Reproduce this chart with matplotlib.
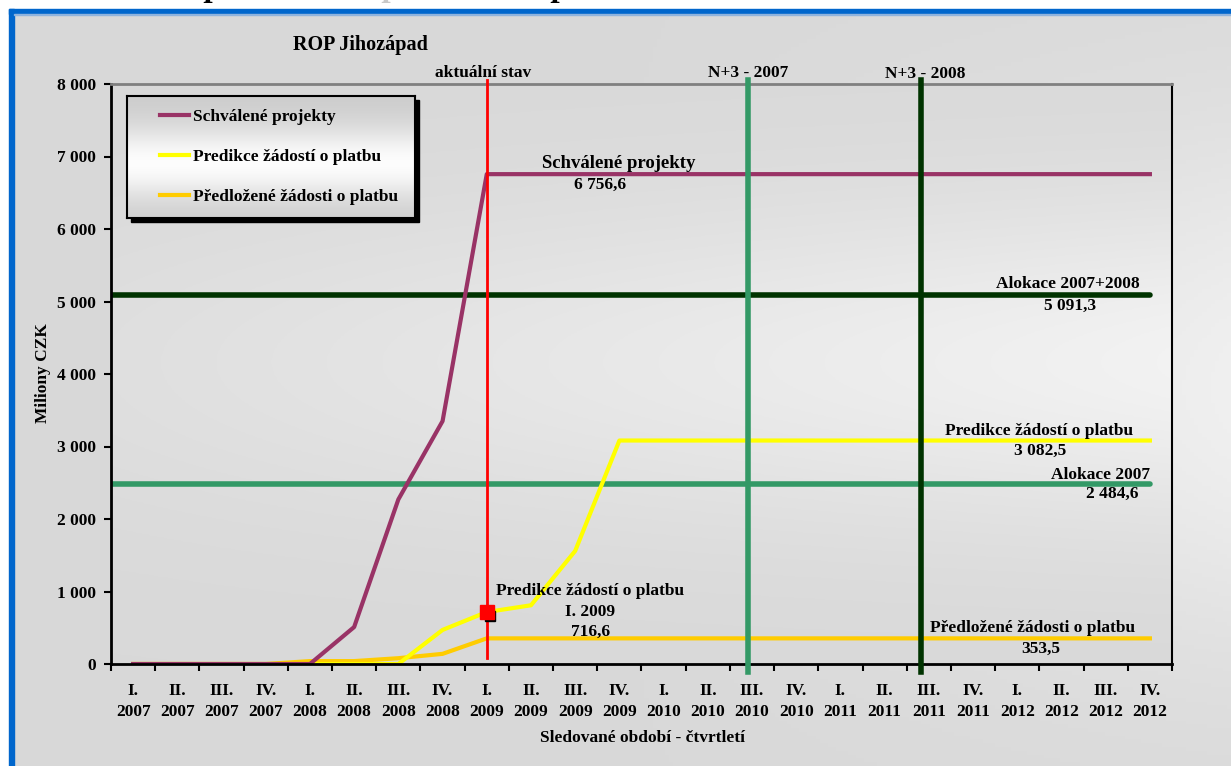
import numpy as np
import matplotlib
matplotlib.use("Agg")
import matplotlib.pyplot as plt
import matplotlib.transforms as mtransforms
from matplotlib.patches import Rectangle

# --- data -------------------------------------------------------------
quarters = ["I.", "II.", "III.", "IV."]
years = ["2007", "2008", "2009", "2010", "2011", "2012"]
tick_labels = [q + "\n" + y for y in years for q in quarters]

series_names = ["Schválené projekty", "Predikce žádostí o platbu",
                "Předložené žádosti o platbu"]
schvalene = [0, 0, 0, 0, 0, 510, 2270, 3350, 6756.6, 6756.6, 6756.6, 6756.6,
             6756.6, 6756.6, 6756.6, 6756.6, 6756.6, 6756.6, 6756.6, 6756.6,
             6756.6, 6756.6, 6756.6, 6756.6]
predikce = [0, 0, 0, 0, 0, 0, 0, 470, 716.6, 810, 1560, 3082.5,
            3082.5, 3082.5, 3082.5, 3082.5, 3082.5, 3082.5, 3082.5, 3082.5,
            3082.5, 3082.5, 3082.5, 3082.5]
predlozene = [0, 0, 0, 0, 40, 40, 80, 140, 353.5, 353.5, 353.5, 353.5,
              353.5, 353.5, 353.5, 353.5, 353.5, 353.5, 353.5, 353.5,
              353.5, 353.5, 353.5, 353.5]

alokace_2007 = 2484.6
alokace_2008 = 5091.3
milestone_names = ["aktuální stav", "N+3 - 2007", "N+3 - 2008"]
milestone_x = [8, 13.9, 17.83]
current_point = (8, 716.6)

yticks = [0, 1000, 2000, 3000, 4000, 5000, 6000, 7000, 8000]

# --- style --------------------------------------------------------------
W, H = 1231, 766
plt.rcParams["font.family"] = ["Liberation Serif", "DejaVu Serif"]
plt.rcParams["font.weight"] = "bold"
FS = 12.5

c_schv = "#993366"
c_pred = "#ffff00"
c_predl = "#ffcc00"
c_alok07 = "#339966"
c_alok08 = "#003300"
c_red = "#ff0000"


def fx(px):
    return px / W


def fy(py):
    return 1 - py / H


fig = plt.figure(figsize=(W / 100, H / 100), dpi=100, facecolor="white")

# background with soft gradient
bg = fig.add_axes([fx(9), 0, 1 - fx(9), fy(9)], zorder=-10)
u = np.linspace(0, 1, 300)[None, :]
v = np.linspace(0, 1, 200)[:, None]
light = 0.85 + 0.09 * np.clip((u - 0.5) / 0.5, 0, 1) * np.exp(-((v - 0.5) / 0.35) ** 2)
bg.imshow(np.dstack([light] * 3), aspect="auto", extent=(0, 1, 0, 1))
bg.set_axis_off()

# blue frame
fig.patches.append(Rectangle((fx(9), fy(14)), 1, 5 / H, transform=fig.transFigure,
                             color="#0066cc", zorder=-5))
fig.patches.append(Rectangle((fx(9), 0), 5 / W, fy(9), transform=fig.transFigure,
                             color="#0066cc", zorder=-5))
fig.patches.append(Rectangle((fx(14), fy(15)), 1, 1 / H, transform=fig.transFigure,
                             color="#8fb3dd", zorder=-5))

# heading cut off at the very top (only descenders visible)
for px_, col in [(214, "black"), (392, "#c8c8c8"), (561, "black")]:
    fig.text(fx(px_), fy(-4), "p", fontsize=24, style="italic", color=col,
             ha="center", va="baseline")

ax = fig.add_axes([fx(111), fy(664), fx(1172) - fx(111), (664 - 84) / H], zorder=1)
x = np.arange(len(tick_labels))

# plot area gradient
pu = np.linspace(0, 1, 300)[None, :]
pv = np.linspace(0, 1, 200)[:, None]
plight = 0.85 + 0.10 * (0.25 + 0.75 * pu) * np.exp(-((pv - 0.48) / 0.28) ** 2)
ax.imshow(np.dstack([plight] * 3), aspect="auto", extent=(-0.5, 23.5, 0, 8000), zorder=0)

ax.plot([-0.5, 23], [alokace_2008, alokace_2008], color=c_alok08, lw=4,
        solid_capstyle="round", zorder=2)
ax.plot([-0.5, 23], [alokace_2007, alokace_2007], color=c_alok07, lw=4,
        solid_capstyle="round", zorder=2)

ax.plot(x, predlozene, color=c_predl, lw=3, label=series_names[2], zorder=2.1)
ax.plot(x, predikce, color=c_pred, lw=3, label=series_names[1], zorder=2.2)
ax.plot(x, schvalene, color=c_schv, lw=3, label=series_names[0], zorder=2.3)

# milestone vertical lines
ax.plot([milestone_x[0]] * 2, [85, 8050], color=c_red, lw=2, zorder=4, clip_on=False)
ax.plot([milestone_x[1]] * 2, [-110, 8050], color=c_alok07, lw=4, zorder=4, clip_on=False)
ax.plot([milestone_x[2]] * 2, [-110, 8050], color=c_alok08, lw=4, zorder=4, clip_on=False)

# current value marker with shadow
shadow_tr = mtransforms.offset_copy(ax.transData, fig=fig, x=3, y=-4, units="dots")
ax.plot(*current_point, marker="s", ms=7, color="black", transform=shadow_tr, zorder=5)
ax.plot(*current_point, marker="s", ms=10, color=c_red, zorder=6)

ax.set_xlim(-0.5, 23.5)
ax.set_ylim(0, 8000)
ax.set_xticks(x)
ax.set_xticklabels(tick_labels, fontsize=FS, linespacing=1.35)
ax.set_xticks(np.arange(-0.5, 24, 1), minor=True)
ax.tick_params(axis="x", which="major", length=0, pad=14)
ax.tick_params(axis="x", which="minor", length=5, width=1.5, direction="out")
ax.set_yticks(yticks)
ax.set_yticklabels([f"{t:,}".replace(",", " ") for t in yticks], fontsize=FS)
ax.tick_params(axis="y", length=5, width=1.5, pad=6)
for s in ["left", "bottom"]:
    ax.spines[s].set_linewidth(2)
ax.spines["right"].set_linewidth(1.5)
ax.spines["top"].set_color("#808080")
ax.spines["top"].set_linewidth(2)

# annotations
tk = dict(fontsize=FS, fontweight="bold", zorder=7)
ax.text(7.92, 8150, milestone_names[0], ha="center", va="center", **tk)
ax.text(13.91, 8150, milestone_names[1], ha="center", va="center", **tk)
ax.text(17.92, 8138, milestone_names[2], ha="center", va="center", **tk)
ax.text(10.99, 6910, "Schválené projekty", ha="center", va="center",
        fontsize=13.5, fontweight="bold", zorder=7)
ax.text(10.56, 6607, "6 756,6", ha="center", va="center", **tk)
ax.text(22.76, 5241, "Alokace 2007+2008", ha="right", va="center", **tk)
ax.text(21.2, 4938, "5 091,3", ha="center", va="center", **tk)
ax.text(22.62, 3214, "Predikce žádostí o platbu", ha="right", va="center", **tk)
ax.text(20.52, 2938, "3 082,5", ha="center", va="center", **tk)
ax.text(23.0, 2607, "Alokace 2007", ha="right", va="center", **tk)
ax.text(22.15, 2345, "2 484,6", ha="center", va="center", **tk)
ax.text(10.34, 1007, "Predikce žádostí o platbu", ha="center", va="center", **tk)
ax.text(10.34, 717, "I. 2009", ha="center", va="center", **tk)
ax.text(10.34, 441, "716,6", ha="center", va="center", **tk)
ax.text(22.67, 497, "Předložené žádosti o platbu", ha="right", va="center", **tk)
ax.text(20.52, 207, "353,5", ha="center", va="center", **tk)

# titles
fig.text(fx(360), fy(45), "ROP Jihozápad", fontsize=14.5, ha="center", va="center")
fig.text(fx(43), fy(373), "Miliony CZK", fontsize=FS, rotation=90, ha="center", va="center")
fig.text(fx(642), fy(738), "Sledované období - čtvrtletí", fontsize=FS,
         ha="center", va="center")

# legend box with shadow and gradient
lx0, ly0, lx1, ly1 = 127, 96, 415, 218
fig.patches.append(Rectangle((fx(lx0 + 4), fy(ly1 + 4)), (lx1 - lx0) / W, (ly1 - ly0) / H,
                             transform=fig.transFigure, color="black", zorder=2))
lax = fig.add_axes([fx(lx0), fy(ly1), (lx1 - lx0) / W, (ly1 - ly0) / H], zorder=3)
lv = np.linspace(0, 1, 100)[:, None]
lg = 0.80 + 0.19 * np.exp(-((lv - 0.55) / 0.3) ** 2)
lax.imshow(np.dstack([np.repeat(lg, 10, axis=1)] * 3), aspect="auto", extent=(0, 1, 0, 1))
lax.set_xticks([])
lax.set_yticks([])
for s in lax.spines.values():
    s.set_linewidth(1.5)
handles, labels = ax.get_legend_handles_labels()
order = [labels.index(n) for n in series_names]
lax.legend([handles[i] for i in order], [labels[i] for i in order], loc="center left",
           frameon=False, fontsize=FS, handlelength=1.65, handletextpad=0.25,
           labelspacing=1.35, borderaxespad=0.0, bbox_to_anchor=(0.09, 0.5))

fig.savefig("out.png", dpi=100, facecolor=fig.get_facecolor())
